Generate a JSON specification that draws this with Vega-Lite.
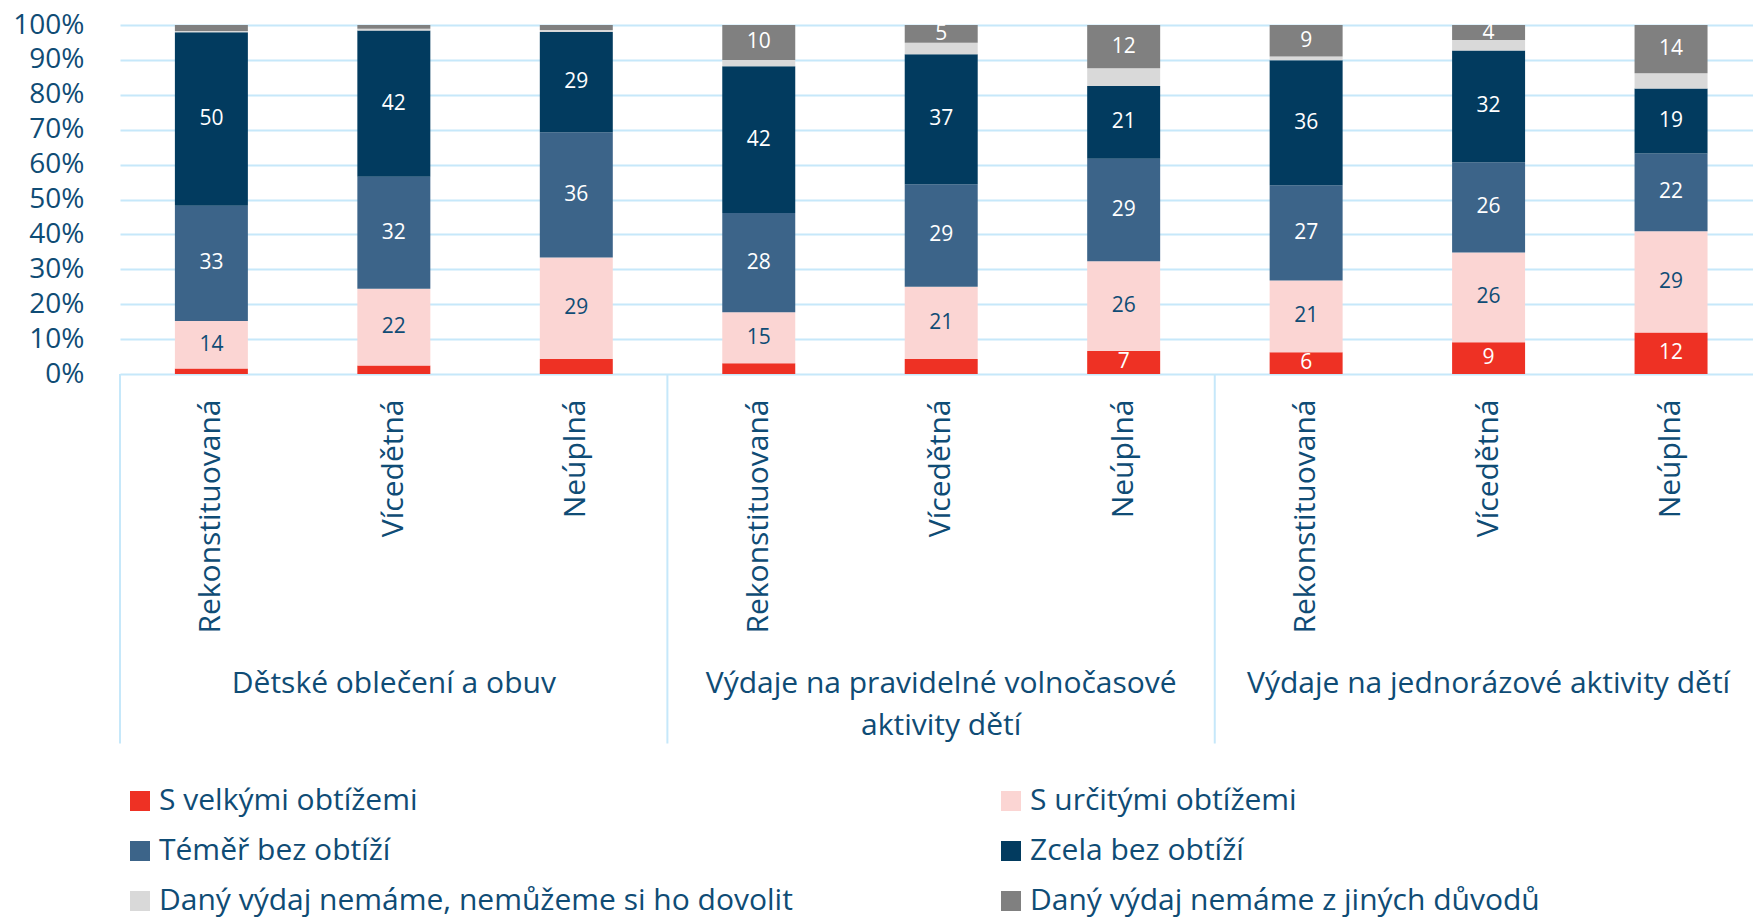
{
  "$schema": "https://vega.github.io/schema/vega-lite/v6.json",
  "width": 1633,
  "height": 349,
  "autosize": "none",
  "padding": {"left": 120, "top": 25, "right": 0, "bottom": 547},
  "background": "white",
  "config": {
    "font": "Open Sans",
    "view": {"stroke": null},
    "axis": {"labelFont": "Open Sans", "labelColor": "#0F4C75"},
    "legend": {"labelFont": "Open Sans"}
  },
  "datasets": {
    "bars": [
      {"group": "Dětské oblečení a obuv", "bar": "1|Rekonstituovaná", "S velkými obtížemi": 1.6, "S určitými obtížemi": 13.6, "Téměř bez obtíží": 33, "Zcela bez obtíží": 49.7, "Daný výdaj nemáme, nemůžeme si ho dovolit": 0.4, "Daný výdaj nemáme z jiných důvodů": 1.7},
      {"group": "Dětské oblečení a obuv", "bar": "1|Vícedětná", "S velkými obtížemi": 2.4, "S určitými obtížemi": 22, "Téměř bez obtíží": 32.1, "Zcela bez obtíží": 41.9, "Daný výdaj nemáme, nemůžeme si ho dovolit": 0.5, "Daný výdaj nemáme z jiných důvodů": 1.1},
      {"group": "Dětské oblečení a obuv", "bar": "1|Neúplná", "S velkými obtížemi": 4.3, "S určitými obtížemi": 29.1, "Téměř bez obtíží": 35.9, "Zcela bez obtíží": 28.7, "Daný výdaj nemáme, nemůžeme si ho dovolit": 0.6, "Daný výdaj nemáme z jiných důvodů": 1.4},
      {"group": "Výdaje na pravidelné volnočasové aktivity dětí", "bar": "2|Rekonstituovaná", "S velkými obtížemi": 3.1, "S určitými obtížemi": 14.6, "Téměř bez obtíží": 28.4, "Zcela bez obtíží": 42.1, "Daný výdaj nemáme, nemůžeme si ho dovolit": 1.8, "Daný výdaj nemáme z jiných důvodů": 10},
      {"group": "Výdaje na pravidelné volnočasové aktivity dětí", "bar": "2|Vícedětná", "S velkými obtížemi": 4.3, "S určitými obtížemi": 20.7, "Téměř bez obtíží": 29.4, "Zcela bez obtíží": 37.2, "Daný výdaj nemáme, nemůžeme si ho dovolit": 3.3, "Daný výdaj nemáme z jiných důvodů": 5.1},
      {"group": "Výdaje na pravidelné volnočasové aktivity dětí", "bar": "2|Neúplná", "S velkými obtížemi": 6.6, "S určitými obtížemi": 25.7, "Téměř bez obtíží": 29.4, "Zcela bez obtíží": 20.8, "Daný výdaj nemáme, nemůžeme si ho dovolit": 5.1, "Daný výdaj nemáme z jiných důvodů": 12.4},
      {"group": "Výdaje na jednorázové aktivity dětí", "bar": "3|Rekonstituovaná", "S velkými obtížemi": 6.2, "S určitými obtížemi": 20.6, "Téměř bez obtíží": 27.3, "Zcela bez obtíží": 35.8, "Daný výdaj nemáme, nemůžeme si ho dovolit": 1.1, "Daný výdaj nemáme z jiných důvodů": 9.0},
      {"group": "Výdaje na jednorázové aktivity dětí", "bar": "3|Vícedětná", "S velkými obtížemi": 9.1, "S určitými obtížemi": 25.7, "Téměř bez obtíží": 25.9, "Zcela bez obtíží": 32.0, "Daný výdaj nemáme, nemůžeme si ho dovolit": 3.0, "Daný výdaj nemáme z jiných důvodů": 4.3},
      {"group": "Výdaje na jednorázové aktivity dětí", "bar": "3|Neúplná", "S velkými obtížemi": 11.9, "S určitými obtížemi": 29.0, "Téměř bez obtíží": 22.3, "Zcela bez obtíží": 18.6, "Daný výdaj nemáme, nemůžeme si ho dovolit": 4.4, "Daný výdaj nemáme z jiných důvodů": 13.8}
    ],
    "groups": [
      {"label": "Dětské oblečení a obuv", "first": "1|Rekonstituovaná", "mid": "1|Vícedětná"},
      {"label": ["Výdaje na pravidelné volnočasové", "aktivity dětí"], "first": "2|Rekonstituovaná", "mid": "2|Vícedětná"},
      {"label": "Výdaje na jednorázové aktivity dětí", "first": "3|Rekonstituovaná", "mid": "3|Vícedětná"}
    ]
  },
  "layer": [
    {
      "data": {"name": "bars"},
      "transform": [
        {"fold": ["S velkými obtížemi", "S určitými obtížemi", "Téměř bez obtíží", "Zcela bez obtíží", "Daný výdaj nemáme, nemůžeme si ho dovolit", "Daný výdaj nemáme z jiných důvodů"], "as": ["category", "value"]},
        {"calculate": "indexof(['S velkými obtížemi', 'S určitými obtížemi', 'Téměř bez obtíží', 'Zcela bez obtíží', 'Daný výdaj nemáme, nemůžeme si ho dovolit', 'Daný výdaj nemáme z jiných důvodů'], datum.category)", "as": "ord"},
        {"stack": "value", "groupby": ["bar"], "sort": [{"field": "ord", "order": "ascending"}], "offset": "normalize", "as": ["v0", "v1"]},
        {"calculate": "(datum.v0 + datum.v1) / 2", "as": "mid"}
      ],
      "layer": [
        {
          "mark": {"type": "bar"},
          "encoding": {
            "x": {
              "field": "bar", "type": "nominal",
              "scale": {"domain": ["1|Rekonstituovaná", "1|Vícedětná", "1|Neúplná", "2|Rekonstituovaná", "2|Vícedětná", "2|Neúplná", "3|Rekonstituovaná", "3|Vícedětná", "3|Neúplná"], "paddingInner": 0.6, "paddingOuter": 0.275, "align": 0.547},
              "axis": {"title": null, "orient": "bottom", "labelExpr": "slice(datum.label, 2)", "labelAngle": 270, "labelAlign": "right", "labelBaseline": "middle", "labelPadding": 25, "labelFontSize": 30, "labelLimit": 400, "labelOverlap": false, "ticks": false, "domain": false, "grid": false, "labelColor": "#0F4C75"}
            },
            "y": {
              "field": "v0", "type": "quantitative",
              "scale": {"domain": [0, 1], "nice": false},
              "axis": {"title": null, "values": [0, 0.1, 0.2, 0.3, 0.4, 0.5, 0.6, 0.7, 0.8, 0.9, 1], "format": ".0%", "labelFontSize": 28, "labelPadding": 36, "labelOverlap": false, "ticks": false, "domain": false, "grid": true, "gridColor": "#C6E8FA", "gridWidth": 2, "labelColor": "#0F4C75"}
            },
            "y2": {"field": "v1"},
            "color": {
              "field": "category", "type": "nominal",
              "scale": {
                "domain": ["S velkými obtížemi", "Téměř bez obtíží", "Daný výdaj nemáme, nemůžeme si ho dovolit", "S určitými obtížemi", "Zcela bez obtíží", "Daný výdaj nemáme z jiných důvodů"],
                "range": ["#EE3124", "#3C6489", "#D9D9D9", "#FBD5D3", "#023B5F", "#808080"]
              },
              "legend": {"title": null, "orient": "none", "legendX": 5, "legendY": 761, "columns": 2, "symbolType": "square", "symbolSize": 400, "symbolStrokeWidth": 0, "symbolOpacity": 1, "labelFontSize": 30, "labelColor": "#0F4C75", "labelLimit": 1000, "labelOffset": 4, "rowPadding": 20, "columnPadding": 203, "padding": 0}
            }
          }
        },
        {
          "transform": [
            {"filter": "datum.category != 'Daný výdaj nemáme, nemůžeme si ho dovolit' && datum.value >= (datum.category == 'S velkými obtížemi' ? 6 : 3.5)"}
          ],
          "mark": {"type": "text", "align": "center", "baseline": "middle", "fontSize": 21, "font": "Open Sans"},
          "encoding": {
            "x": {"field": "bar", "type": "nominal",
              "axis": {"title": null, "orient": "bottom", "labelExpr": "slice(datum.label, 2)", "labelAngle": 270, "labelAlign": "right", "labelBaseline": "middle", "labelPadding": 25, "labelFontSize": 30, "labelLimit": 400, "labelOverlap": false, "ticks": false, "domain": false, "grid": false, "labelColor": "#0F4C75"}},
            "y": {"field": "mid", "type": "quantitative",
              "axis": {"title": null, "values": [0, 0.1, 0.2, 0.3, 0.4, 0.5, 0.6, 0.7, 0.8, 0.9, 1], "format": ".0%", "labelFontSize": 28, "labelPadding": 36, "labelOverlap": false, "ticks": false, "domain": false, "grid": true, "gridColor": "#C6E8FA", "gridWidth": 2, "labelColor": "#0F4C75"}},
            "text": {"field": "value", "type": "quantitative", "format": ".0f"},
            "color": {"condition": {"test": "datum.category == 'S určitými obtížemi'", "value": "#0F4C75"}, "value": "#FFFFFF"}
          }
        }
      ]
    },
    {
      "data": {"name": "groups"},
      "layer": [
        {
          "mark": {"type": "rule", "color": "#C6E8FA", "strokeWidth": 2},
          "encoding": {
            "x": {"field": "first", "type": "nominal", "bandPosition": -0.752,
              "axis": {"title": null, "orient": "bottom", "labelExpr": "slice(datum.label, 2)", "labelAngle": 270, "labelAlign": "right", "labelBaseline": "middle", "labelPadding": 25, "labelFontSize": 30, "labelLimit": 400, "labelOverlap": false, "ticks": false, "domain": false, "grid": false, "labelColor": "#0F4C75"}},
            "y": {"datum": 0, "type": "quantitative",
              "axis": {"title": null, "values": [0, 0.1, 0.2, 0.3, 0.4, 0.5, 0.6, 0.7, 0.8, 0.9, 1], "format": ".0%", "labelFontSize": 28, "labelPadding": 36, "labelOverlap": false, "ticks": false, "domain": false, "grid": true, "gridColor": "#C6E8FA", "gridWidth": 2, "labelColor": "#0F4C75"}},
            "y2": {"datum": -1.059}
          }
        },
        {
          "mark": {"type": "text", "align": "center", "baseline": "alphabetic", "fontSize": 30, "lineHeight": 42, "color": "#0F4C75", "font": "Open Sans"},
          "encoding": {
            "x": {"field": "mid", "type": "nominal", "bandPosition": 0.5,
              "axis": {"title": null, "orient": "bottom", "labelExpr": "slice(datum.label, 2)", "labelAngle": 270, "labelAlign": "right", "labelBaseline": "middle", "labelPadding": 25, "labelFontSize": 30, "labelLimit": 400, "labelOverlap": false, "ticks": false, "domain": false, "grid": false, "labelColor": "#0F4C75"}},
            "y": {"datum": -0.913, "type": "quantitative",
              "axis": {"title": null, "values": [0, 0.1, 0.2, 0.3, 0.4, 0.5, 0.6, 0.7, 0.8, 0.9, 1], "format": ".0%", "labelFontSize": 28, "labelPadding": 36, "labelOverlap": false, "ticks": false, "domain": false, "grid": true, "gridColor": "#C6E8FA", "gridWidth": 2, "labelColor": "#0F4C75"}},
            "text": {"field": "label", "type": "nominal"}
          }
        }
      ]
    }
  ]
}
